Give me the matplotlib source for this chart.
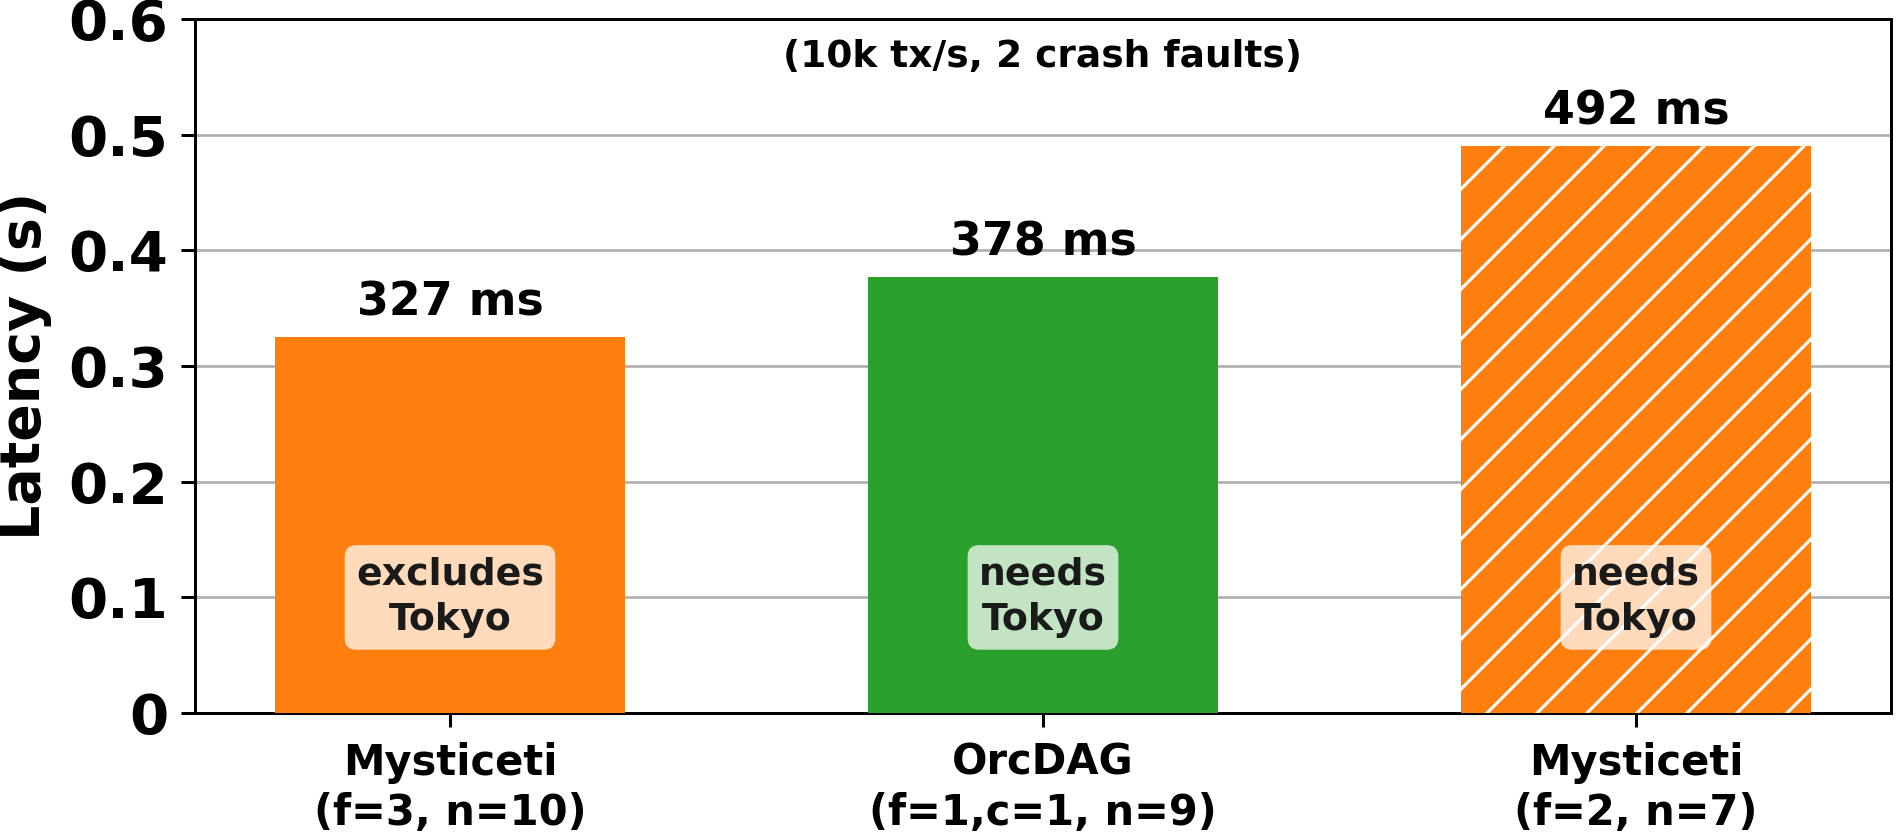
import matplotlib
matplotlib.use("Agg")
import matplotlib.pyplot as plt
from matplotlib.ticker import FuncFormatter

categories = ["Mysticeti\n(f=3, n=10)", "OrcDAG\n(f=1,c=1, n=9)", "Mysticeti\n(f=2, n=7)"]
latency_s = [0.325, 0.377, 0.490]
value_labels = ["327 ms", "378 ms", "492 ms"]
box_labels = ["excludes\nTokyo", "needs\nTokyo", "needs\nTokyo"]
colors = ["#ff7f0e", "#2ca02c", "#ff7f0e"]
hatches = [None, None, "//"]
title_text = "(10k tx/s, 2 crash faults)"
yticks = [0, 0.1, 0.2, 0.3, 0.4, 0.5, 0.6]

plt.rcParams["font.family"] = ["DejaVu Sans"]
plt.rcParams["font.weight"] = "bold"
plt.rcParams["hatch.color"] = "white"
plt.rcParams["hatch.linewidth"] = 0.75

fig = plt.figure(figsize=(1897 / 300, 835 / 300), dpi=300)
ax = fig.add_axes([0.1028, 0.146, 0.894, 0.831])

x = list(range(len(categories)))
for i in x:
    ax.bar(i, latency_s[i], width=0.59, color=colors[i], hatch=hatches[i],
           edgecolor="white" if hatches[i] else colors[i], linewidth=0, zorder=3)
    ax.text(i, latency_s[i] + 0.010, value_labels[i], ha="center", va="bottom",
            fontsize=11.0, fontweight="bold", color="black", zorder=5)
    ax.text(i, 0.1, box_labels[i], ha="center", va="center", fontsize=9.1,
            fontweight="bold", color="#1a1a1a", linespacing=1.35, zorder=5,
            bbox=dict(boxstyle="round,pad=0.3", facecolor="white", edgecolor="none", alpha=0.72))

ax.text(1, 0.567, title_text, ha="center", va="center",
        fontsize=9.0, fontweight="bold", color="black")

ax.set_xlim(-0.43, 2.43)
ax.set_ylim(0, 0.6)
ax.set_yticks(yticks)
ax.yaxis.set_major_formatter(FuncFormatter(lambda v, p: "0" if v == 0 else f"{v:.1f}"))
ax.set_xticks(x)
ax.set_xticklabels(categories, fontsize=10.0, fontweight="bold", linespacing=1.25)
for lab in ax.get_yticklabels():
    lab.set_fontsize(13.5)
    lab.set_fontweight("bold")
ax.set_ylabel("Latency (s)", fontsize=13.3, fontweight="bold", labelpad=4)
ax.grid(axis="y", color="#b0b0b0", linewidth=0.65, zorder=0)
ax.set_axisbelow(True)
for s in ax.spines.values():
    s.set_linewidth(0.72)
ax.tick_params(axis="both", length=3.4, width=0.72, direction="out")
ax.tick_params(axis="y", pad=3)

fig.savefig("out.png", dpi=300)
